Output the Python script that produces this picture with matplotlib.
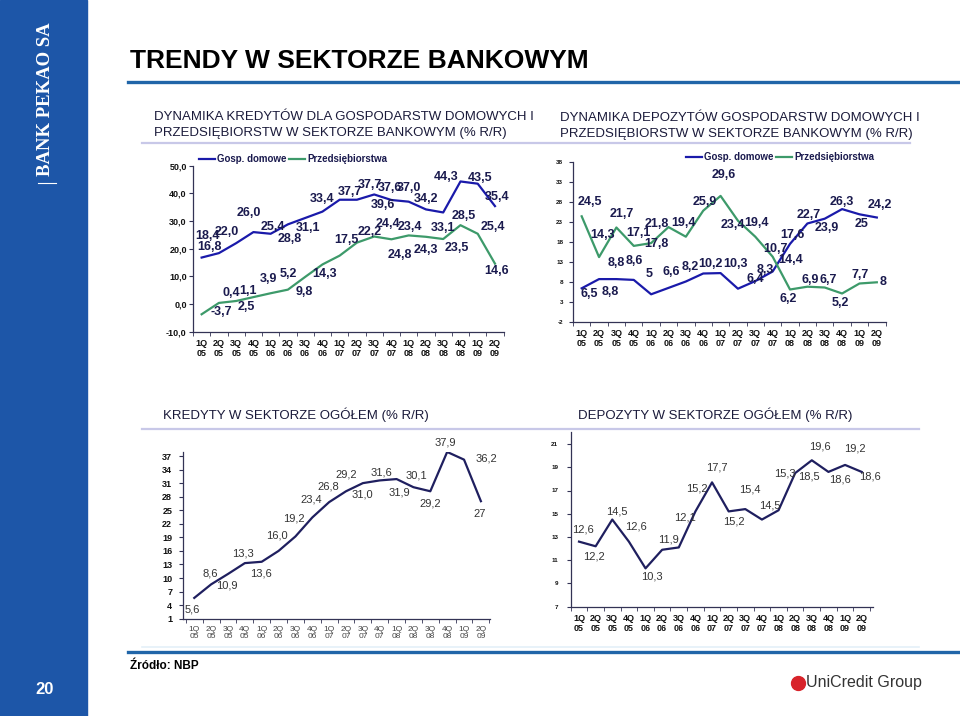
import matplotlib.pyplot as plt
from matplotlib.patches import Rectangle
from matplotlib.lines import Line2D

plt.rcParams['font.family'] = ['Liberation Sans', 'DejaVu Sans']

quarters = ['1Q\n05', '2Q\n05', '3Q\n05', '4Q\n05', '1Q\n06', '2Q\n06', '3Q\n06', '4Q\n06', '1Q\n07',
            '2Q\n07', '3Q\n07', '4Q\n07', '1Q\n08', '2Q\n08', '3Q\n08', '4Q\n08', '1Q\n09', '2Q\n09']

# kredyty: gospodarstwa domowe / przedsiebiorstwa
hh_credit = [16.8, 18.4, 22.0, 26.0, 25.4, 28.8, 31.1, 33.4, 37.7, 37.7, 39.6, 37.6, 37.0, 34.2, 33.1, 44.3, 43.5, 35.4]
corp_credit = [-3.7, 0.4, 1.1, 2.5, 3.9, 5.2, 9.8, 14.3, 17.5, 22.2, 24.4, 23.4, 24.8, 24.3, 23.5, 28.5, 25.4, 14.6]

# depozyty: gospodarstwa domowe / przedsiebiorstwa
hh_dep = [6.5, 8.8, 8.8, 8.6, 5, 6.6, 8.2, 10.2, 10.3, 6.4, 8.3, 10.7, 17.6, 22.7, 23.9, 26.3, 25, 24.2]
corp_dep = [24.5, 14.3, 21.7, 17.1, 17.8, 21.8, 19.4, 25.9, 29.6, 23.4, 19.4, 14.4, 6.2, 6.9, 6.7, 5.2, 7.7, 8]

# sektor ogolem
credit_total = [5.6, 8.6, 10.9, 13.3, 13.6, 16.0, 19.2, 23.4, 26.8, 29.2, 31.0, 31.6, 31.9, 30.1, 29.2, 37.9, 36.2, 27]
dep_total = [12.6, 12.2, 14.5, 12.6, 10.3, 11.9, 12.1, 15.2, 17.7, 15.2, 15.4, 14.5, 15.3, 18.5, 19.6, 18.6, 19.2, 18.6]

# przesuniecia etykiet (px, w dol dodatnie)
off_hh_credit = [(8, -11), (-11, -17), (-9.5, -11.5), (-5, -19), (2, -7), (2, 15), (3, 10), (0, -13), (10, -8),
                 (13, -15), (9, 10.5), (-1, -12), (0, -13.5), (0, -10), (0, 15.5), (-14, -4), (2, -6), (2, -9.5)]
off_corp_credit = [(20, -2.6), (12.7, -10), (12, -9.7), (-7, 9.6), (-2.4, -14), (0, -15.7), (-1, 14.7), (2.5, 9.5),
                   (7, -16), (13, -11), (14, -12.5), (18.5, -12), (-8.7, 19.6), (0, 13), (13.5, 9.3), (3, -9),
                   (15.6, -6.5), (2, 7.5)]
off_hh_dep = [(8, 6), (11, 12.6), (0, -16), (1, -19), (-2, -20), (3, -16), (4, -15), (7, -9.5), (14.5, -9),
              (17, -10), (10.5, -11), (2.5, -22.5), (2.5, -9), (1, -8.5), (2, 9.6), (0, -7.5), (2, 9.7), (3, -12.5)]
off_corp_dep = [(8, -14), (4, -22), (5, -14), (4.6, -13.4), (5.6, 1), (-11.7, -3), (-2.5, -13.4), (2, -9), (3, -21),
                (-5.5, 4.6), (1.5, -13.4), (17.5, 3.3), (-1.6, 10), (3, -6.6), (3, -7.4), (-2, 9.7), (1, -8.5),
                (6.6, 0)]
off_credit_total = [(-1.6, 12), (-1, -11), (-1.5, 11.5), (-2, -9.7), (-1, 11.7), (-2, -15.5), (-1.5, -18),
                    (-0.6, -18), (-1, -16), (0.7, -17), (0, 11.7), (2, -8.3), (2.7, 13.4), (3, -11.4), (0, 12.2),
                    (-2, -9.7), (22.6, -1.3), (-1, 12.5)]
off_dep_total = [(4.4, -12.6), (-1.7, 10.4), (4.4, -8.5), (6.7, -15), (6.7, 8.4), (6.6, -9.8), (5.7, -30),
                 (1.7, -22.5), (5, -14.7), (5, 10), (5, -20), (8.3, -14.5), (6.6, -36.4), (13.3, 3.4),
                 (8.3, -13.8), (11.6, 7.8), (10, -16), (8.3, 4.5)]

W, H = 960, 716
BLUE = '#1a1aaa'
GREEN = '#3d9a6a'
NAVY = '#1f1f5f'
LBL = '#1a1a4e'

fig = plt.figure(figsize=(9.6, 7.16), dpi=100)


def px_axes(l, t, r, b):
    return fig.add_axes([l / W, 1 - b / H, (r - l) / W, (b - t) / H])


def hline(y, x0, x1, color, lw):
    fig.add_artist(Line2D([x0 / W, x1 / W], [1 - y / H, 1 - y / H], color=color, lw=lw))


def fmt(v):
    if isinstance(v, int):
        return str(v)
    return f'{v:.1f}'.replace('.', ',')


def style(ax, ylim, xlim, yticks, ysize, xsize, xbold, ybold, ytickfmt, xcolor='#111111', ypad=2):
    ax.set_xlim(*xlim)
    ax.set_ylim(*ylim)
    ax.set_xticks(range(len(quarters)))
    ax.set_xticklabels(quarters, fontsize=xsize, fontweight='bold' if xbold else 'normal',
                       color=xcolor, linespacing=1.15)
    ax.set_xticks([i + 0.5 for i in range(-1, len(quarters))], minor=True)
    ax.tick_params(axis='x', which='major', length=0, pad=5)
    ax.tick_params(axis='x', which='minor', length=3, color='#333355')
    ax.set_yticks(yticks)
    ax.set_yticklabels([ytickfmt(v) for v in yticks], fontsize=ysize,
                       fontweight='bold' if ybold else 'normal', color='#111111')
    ax.tick_params(axis='y', length=3, pad=ypad, color='#333355')
    for s in ('top', 'right'):
        ax.spines[s].set_visible(False)
    for s in ('left', 'bottom'):
        ax.spines[s].set_color('#333355')
        ax.spines[s].set_linewidth(0.9)
    ax.set_facecolor('none')


def labels(ax, vals, offs, size, weight, color):
    for i, (v, (dx, dy)) in enumerate(zip(vals, offs)):
        ax.annotate(fmt(v), (i, v), xytext=(dx, -dy), textcoords='offset pixels',
                    ha='center', va='center', fontsize=size, fontweight=weight, color=color)


# pasek boczny
fig.add_artist(Rectangle((0, 0), 87 / W, 1, color='#1d56a8', transform=fig.transFigure, zorder=0))
fig.text(46 / W, 1 - 99 / H, 'BANK PEKAO SA', rotation=90, color='white', fontsize=13.5, fontweight='bold',
         family=['Liberation Serif', 'DejaVu Serif'], ha='center', va='center')
hline(183, 38, 56, 'white', 0.8)
fig.text(45 / W, 1 - 690 / H, '20', color='white', fontsize=12, fontweight='bold', ha='center', va='center')

# naglowek
fig.text(130 / W, 1 - 61 / H, 'TRENDY W SEKTORZE BANKOWYM', fontsize=19, fontweight='bold',
         ha='left', va='center', color='black')
hline(82, 128, 960, '#2065a8', 2.4)
hline(652, 128, 960, '#2065a8', 2.4)
hline(143, 142, 910, '#c8c8e8', 1.6)
hline(429, 142, 919, '#c8c8e8', 1.6)
hline(647, 142, 919, '#e4f0f8', 1.2)

fig.text(154 / W, 1 - 125 / H, 'DYNAMIKA KREDYTÓW DLA GOSPODARSTW DOMOWYCH I\n'
         'PRZEDSIĘBIORSTW W SEKTORZE BANKOWYM (% R/R)', fontsize=9.5, color='#1a1a3a',
         ha='left', va='center', linespacing=1.35)
fig.text(560 / W, 1 - 126 / H, 'DYNAMIKA DEPOZYTÓW GOSPODARSTW DOMOWYCH I\n'
         'PRZEDSIĘBIORSTW W SEKTORZE BANKOWYM (% R/R)', fontsize=9.5, color='#1a1a3a',
         ha='left', va='center', linespacing=1.35)
fig.text(163 / W, 1 - 415 / H, 'KREDYTY W SEKTORZE OGÓŁEM (% R/R)', fontsize=9.5,
         color='#1a1a3a', ha='left', va='center')
fig.text(578 / W, 1 - 415 / H, 'DEPOZYTY W SEKTORZE OGÓŁEM (% R/R)', fontsize=9.5,
         color='#1a1a3a', ha='left', va='center')

# stopka
fig.text(130 / W, 1 - 666 / H, 'Źródło: NBP', fontsize=8.5, fontweight='bold', ha='left', va='center')
fig.add_artist(Line2D([798 / W], [1 - 683 / H], marker='o', markersize=10, color='#d8232a'))
fig.text(806 / W, 1 - 683 / H, 'UniCredit Group', fontsize=11.5, color='#333333', ha='left', va='center')

x = range(len(quarters))

# wykres 1
ax1 = px_axes(193, 165.7, 503.6, 331.7)
ax1.plot(x, hh_credit, color=BLUE, lw=1.6, label='Gosp. domowe')
ax1.plot(x, corp_credit, color=GREEN, lw=1.6, label='Przedsiębiorstwa')
style(ax1, (-10, 50), (-0.5, 17.5), list(range(-10, 51, 10)), 6.5, 6.5, True, True,
      lambda v: f'{v:.1f}'.replace('.', ','), ypad=1.5)
labels(ax1, hh_credit, off_hh_credit, 9, 'bold', LBL)
labels(ax1, corp_credit, off_corp_credit, 9, 'bold', LBL)
ax1.legend(loc='center left', bbox_to_anchor=(199 / W, 1 - 159 / H), bbox_transform=fig.transFigure,
           ncol=2, frameon=False, borderpad=0, borderaxespad=0, handlelength=1.65, handletextpad=0.2,
           columnspacing=0.3, prop={'size': 7, 'weight': 'bold'}, labelcolor=LBL)

# wykres 2
ax2 = px_axes(573, 162.3, 885.5, 322.3)
ax2.plot(x, hh_dep, color=BLUE, lw=1.6, label='Gosp. domowe')
ax2.plot(x, corp_dep, color=GREEN, lw=1.6, label='Przedsiębiorstwa')
style(ax2, (-2, 38), (-0.5, 17.5), list(range(-2, 39, 5)), 4.5, 6.5, True, True, str, ypad=4)
labels(ax2, hh_dep, off_hh_dep, 9, 'bold', LBL)
labels(ax2, corp_dep, off_corp_dep, 9, 'bold', LBL)
ax2.legend(loc='center left', bbox_to_anchor=(686 / W, 1 - 157 / H), bbox_transform=fig.transFigure,
           ncol=2, frameon=False, borderpad=0, borderaxespad=0, handlelength=1.65, handletextpad=0.2,
           columnspacing=0.3, prop={'size': 7, 'weight': 'bold'}, labelcolor=LBL)

# wykres 3
ax3 = px_axes(183.3, 451.5, 490, 618.7)
ax3.plot(x, credit_total, color=NAVY, lw=1.6)
style(ax3, (1, 38), (-0.65, 17.54), list(range(1, 38, 3)), 6.5, 6, False, True, str,
      xcolor='#444444', ypad=5)
labels(ax3, credit_total, off_credit_total, 8, 'normal', '#333333')

# wykres 4
ax4 = px_axes(570.7, 432.4, 873, 606.7)
ax4.plot(x, dep_total, color=NAVY, lw=1.6)
style(ax4, (7, 22), (-0.46, 17.68), list(range(7, 22, 2)), 4.5, 6.5, True, True, str, ypad=6)
labels(ax4, dep_total, off_dep_total, 8, 'normal', '#333333')

fig.savefig('out.png', dpi=100)
